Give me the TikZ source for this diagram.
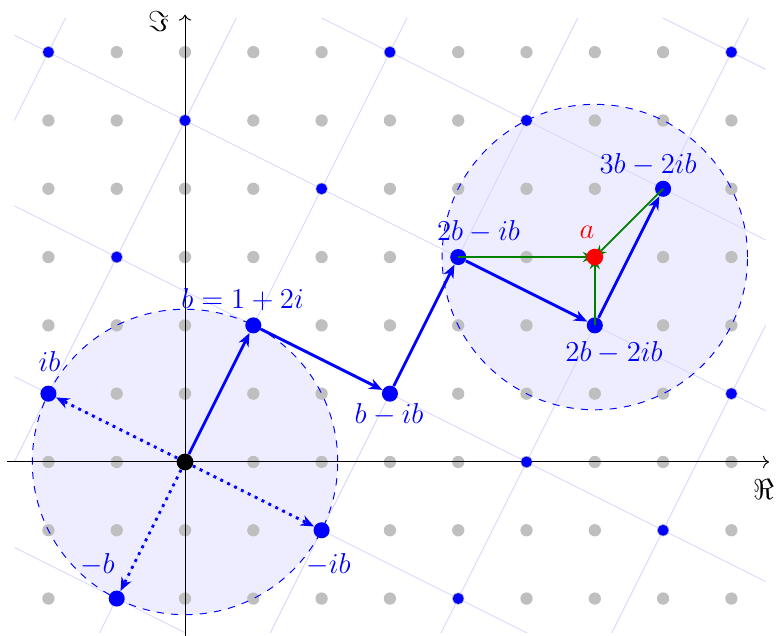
\documentclass[tikz,border=0pt]{standalone}
\usetikzlibrary{arrows.meta}
\begin{document}
\begin{tikzpicture}[x=1cm,y=1cm,
  gdot/.style={fill=gray!50},
  lat/.style={blue!15, line width=0.4pt},
  bigb/.style={circle, fill=blue, inner sep=0pt, minimum size=0.235cm},
  smallb/.style={circle, fill=blue, inner sep=0pt, minimum size=0.16cm},
  blarrow/.style={blue, line width=1.2pt, -{Stealth[length=5.5pt,width=4.5pt,inset=1.7pt]}},
  dotarrow/.style={blarrow, dotted},
  grarrow/.style={green!50!black, line width=0.8pt, -{Stealth[length=5pt,width=4.2pt]}},
  lbl/.style={blue, font=\large},
  disc/.style={fill=blue!7},
  rim/.style={blue, dashed, line width=0.4pt}
]
\useasboundingbox (-2.709,-2.548) rectangle (8.653,6.764);
% discs
\fill[disc] (0,0) circle[radius={sqrt(5)}];
\fill[disc] (6,3) circle[radius={sqrt(5)}];
% lattice lines
\begin{scope}
  \clip (-2.5,-2.5) rectangle (8.5,6.5);
  \foreach \n in {-4,...,3} \draw[lat] ({-2*\n-10},{\n-20}) -- ({-2*\n+10},{\n+20});
  \foreach \m in {-2,...,5} \draw[lat] ({\m+20},{2*\m-10}) -- ({\m-20},{2*\m+10});
\end{scope}
% grid dots
\foreach \x in {-2,...,8} \foreach \y in {-2,...,6} \fill[gdot] (\x,\y) circle[radius=0.09];
% dashed rims
\draw[rim] (0,0) circle[radius={sqrt(5)}];
\draw[rim] (6,3) circle[radius={sqrt(5)}];
% axes
\draw[->] (-2.6,0) -- (8.55,0);
\draw[->] (0,-2.55) -- (0,6.55);
\node (re) at (8.47,-0.41) {\large$\Re$};
\node (im) at (-0.388,6.45) {\large$\Im$};
% small lattice points
\foreach \p [count=\k] in {(4,-2),(7,-1),(5,0),(8,1),(-1,3),(2,4),(0,5),(5,5),(-2,6),(3,6),(8,6)}
  \node[smallb] (s\k) at \p {};
% labelled lattice points
\node[bigb, fill=black, minimum size=0.245cm] (o) at (0,0) {};
\node[bigb] (b) at (1,2) {};
\node[bigb] (ib) at (-2,1) {};
\node[bigb] (mb) at (-1,-2) {};
\node[bigb] (mib) at (2,-1) {};
\node[bigb] (bmib) at (3,1) {};
\node[bigb] (c1) at (4,3) {};
\node[bigb] (c2) at (6,2) {};
\node[bigb] (c3) at (7,4) {};
\coordinate (a) at (6,3);
% blue arrows
\draw[blarrow] (o) -- (b);
\draw[dotarrow] (o) -- (ib);
\draw[dotarrow] (o) -- (mb);
\draw[dotarrow] (o) -- (mib);
\draw[blarrow] (b) -- (bmib);
\draw[blarrow] (bmib) -- (c1);
\draw[blarrow] (c1) -- (c2);
\draw[blarrow] (c2) -- (c3);
% green arrows
\draw[grarrow] (c1.center) -- (a);
\draw[grarrow] (c2.center) -- (a);
\draw[grarrow] (c3.center) -- (a);
\node[circle, fill=red, inner sep=0pt, minimum size=0.245cm] (adot) at (a) {};
% labels
\node[lbl] (lb) at (0.842,2.372) {$b=1+2i$};
\node[lbl] (lib) at (-1.984,1.464) {$ib$};
\node[lbl] (lmb) at (-1.281,-1.508) {$-b$};
\node[lbl] (lmib) at (2.101,-1.508) {$-ib$};
\node[lbl] (lbmib) at (2.987,0.688) {$b-ib$};
\node[lbl] (lc1) at (4.297,3.367) {$2b-ib$};
\node[lbl] (lc2) at (6.281,1.596) {$2b-2ib$};
\node[lbl] (lc3) at (6.779,4.348) {$3b-2ib$};
\node[red, font=\large] (la) at (5.886,3.367) {$a$};
\end{tikzpicture}
\end{document}
